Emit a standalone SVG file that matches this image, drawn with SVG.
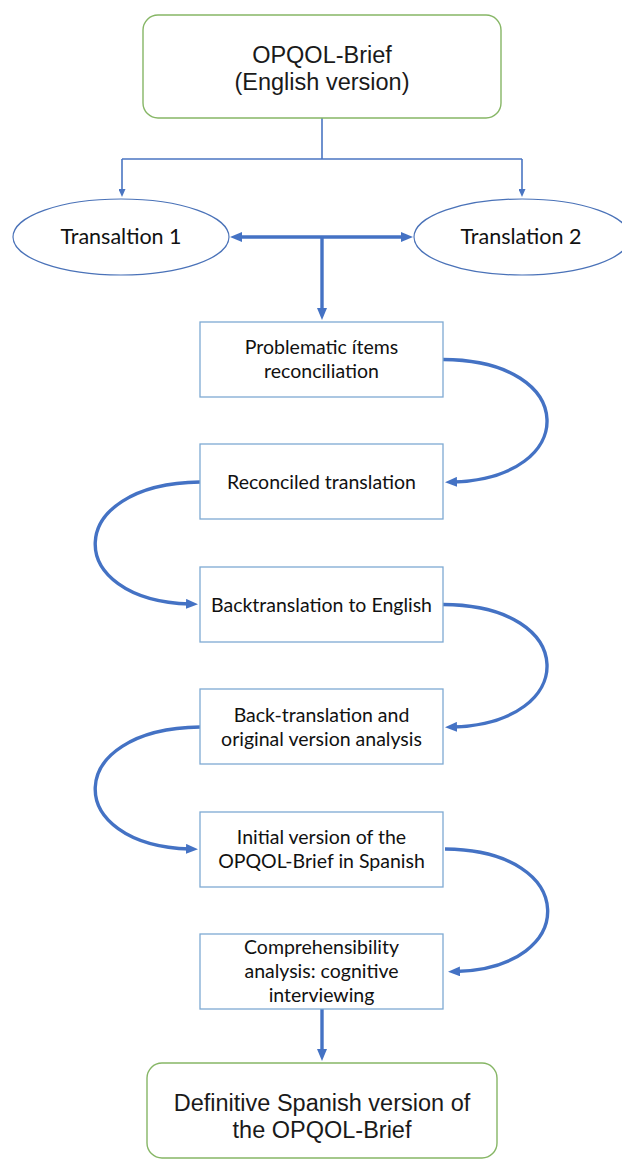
<svg xmlns="http://www.w3.org/2000/svg" width="622" height="1160" viewBox="0 0 622 1160">
<style>
.term{fill:#fff;stroke:#86b665;stroke-width:1.4}
.oval{fill:#fff;stroke:#4a72b8;stroke-width:1.2}
.box{fill:#fff;stroke:#7eaad3;stroke-width:1.3}
.big{font-family:"Liberation Sans",Arial,sans-serif;font-size:23.5px;fill:#1a1a1a;text-anchor:middle}
.ov{font-family:Lato,"Open Sans",sans-serif;font-size:21.5px;fill:#111;text-anchor:middle}
.bt{font-family:Lato,"Open Sans",sans-serif;font-size:19.5px;fill:#111;text-anchor:middle}
.thin{fill:none;stroke:#4a75c2;stroke-width:1.6}
.thick{fill:none;stroke:#4472c4;stroke-width:3.4}
</style>
<defs>
<marker id="ah" viewBox="0 0 12 10" refX="4" refY="5" markerWidth="12" markerHeight="10" markerUnits="userSpaceOnUse" orient="auto-start-reverse"><path d="M0,0 L12,5 L0,10 z" fill="#4472c4"/></marker>
<marker id="as" viewBox="0 0 8 7" refX="2" refY="3.5" markerWidth="8" markerHeight="7" markerUnits="userSpaceOnUse" orient="auto"><path d="M0,0 L8,3.5 L0,7 z" fill="#4a75c2"/></marker>
</defs>
<g id="connectors">
<path class="thin" d="M322,118 V159"/>
<path class="thin" d="M122,159 H522"/>
<path class="thin" d="M122,159 V191" marker-end="url(#as)"/>
<path class="thin" d="M522,159 V191" marker-end="url(#as)"/>
<path class="thick" d="M238,237 H405" marker-start="url(#ah)" marker-end="url(#ah)"/>
<path class="thick" d="M322,237 V312" marker-end="url(#ah)"/>
<path class="thick" d="M443,359.5 C580,360 580,478 453,482" marker-end="url(#ah)"/>
<path class="thick" d="M200,482 C62,484 62,600 190,604" marker-end="url(#ah)"/>
<path class="thick" d="M443,604.5 C580,605 580,723 453,727" marker-end="url(#ah)"/>
<path class="thick" d="M200,727 C62,729 62,845 190,849" marker-end="url(#ah)"/>
<path class="thick" d="M445,849 C580,850 580,968 456,971.5" marker-end="url(#ah)"/>
<path class="thick" d="M322,1009 V1053" marker-end="url(#ah)"/>
</g>
<g id="start">
<rect class="term" x="143" y="15" width="358" height="103" rx="15"/>
<text class="big" x="322" y="63">OPQOL-Brief</text>
<text class="big" x="322" y="90">(English version)</text>
</g>
<g id="translation1">
<ellipse class="oval" cx="121" cy="237" rx="108" ry="38"/>
<text class="ov" x="121" y="244">Transaltion 1</text>
</g>
<g id="translation2">
<ellipse class="oval" cx="522" cy="237" rx="108" ry="38"/>
<text class="ov" x="521" y="244">Translation 2</text>
</g>
<g id="reconciliation">
<rect class="box" x="200" y="322" width="243" height="75"/>
<text class="bt" x="321.5" y="354">Problematic ítems</text>
<text class="bt" x="321.5" y="378">reconciliation</text>
</g>
<g id="reconciled">
<rect class="box" x="200" y="444" width="243" height="75"/>
<text class="bt" x="321.5" y="488.5">Reconciled translation</text>
</g>
<g id="backtranslation">
<rect class="box" x="200" y="567" width="243" height="75"/>
<text class="bt" x="321.5" y="611.5">Backtranslation to English</text>
</g>
<g id="analysis">
<rect class="box" x="200" y="689" width="243" height="75"/>
<text class="bt" x="321.5" y="722">Back-translation and</text>
<text class="bt" x="321.5" y="746">original version analysis</text>
</g>
<g id="initial">
<rect class="box" x="200" y="812" width="243" height="75"/>
<text class="bt" x="321.5" y="844">Initial version of the</text>
<text class="bt" x="321.5" y="868">OPQOL-Brief in Spanish</text>
</g>
<g id="comprehensibility">
<rect class="box" x="200" y="934" width="243" height="75"/>
<text class="bt" x="321.5" y="954">Comprehensibility</text>
<text class="bt" x="321.5" y="978">analysis: cognitive</text>
<text class="bt" x="321.5" y="1002">interviewing</text>
</g>
<g id="definitive">
<rect class="term" x="147" y="1063" width="350" height="95" rx="15"/>
<text class="big" x="322" y="1111">Definitive Spanish version of</text>
<text class="big" x="322" y="1138">the OPQOL-Brief</text>
</g>
</svg>
